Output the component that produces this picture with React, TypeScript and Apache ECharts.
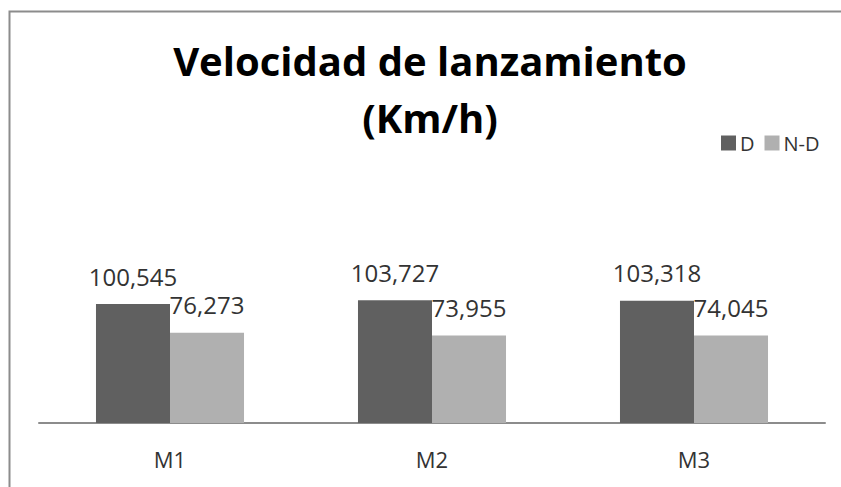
import React, { useEffect, useRef } from "react";
import * as echarts from "echarts";

const categories = ["M1", "M2", "M3"];
const seriesNames = ["D", "N-D"];
const valuesD = [100.545, 103.727, 103.318];
const valuesND = [76.273, 73.955, 74.045];
const colors = ["#606060", "#b0b0b0"];

export default function App() {
  const ref = useRef<HTMLDivElement>(null);
  useEffect(() => {
    document.body.style.margin = "0";
    const chart = echarts.init(ref.current!, null, { renderer: "svg" });
    const fmt = (p: any) => Number(p.value).toFixed(3).replace(".", ",");
    const labelStyle = {
      show: true,
      position: "top" as const,
      distance: 16,
      formatter: fmt,
      fontFamily: "Open Sans",
      fontSize: 24,
      color: "#333333",
    };
    chart.setOption({
      animation: false,
      backgroundColor: "#ffffff",
      title: {
        text: "Velocidad de lanzamiento\n(Km/h)",
        left: 425,
        top: 27,
        textAlign: "center",
        textStyle: {
          fontFamily: "Open Sans",
          fontWeight: "bold",
          fontSize: 40,
          lineHeight: 57,
          color: "#000000",
        },
      },
      legend: {
        left: 716,
        top: 128,
        itemWidth: 15,
        itemHeight: 15,
        itemGap: 10,
        icon: "rect",
        textStyle: { fontFamily: "Open Sans", fontSize: 20, color: "#333333", padding: [0, 0, 0, -1] },
        data: seriesNames,
      },
      grid: { left: 39, right: 16, top: 281, bottom: 64 },
      xAxis: {
        type: "category",
        data: categories,
        axisLine: { lineStyle: { color: "#8c8c8c", width: 2 } },
        axisTick: { show: false },
        axisLabel: { fontFamily: "Open Sans", fontSize: 22, color: "#333333", margin: 25 },
      },
      yAxis: {
        type: "value",
        min: 0,
        max: 120,
        show: false,
        splitLine: { show: false },
      },
      series: [
        {
          name: seriesNames[0],
          type: "bar",
          data: valuesD,
          itemStyle: { color: colors[0] },
          barGap: "0%",
          barCategoryGap: "43.5%",
          label: labelStyle,
        },
        {
          name: seriesNames[1],
          type: "bar",
          data: valuesND,
          itemStyle: { color: colors[1] },
          barGap: "0%",
          barCategoryGap: "43.5%",
          label: labelStyle,
        },
      ],
      graphic: [
        {
          type: "rect",
          left: 7,
          top: 9,
          shape: { width: 900, height: 600 },
          style: { fill: "none", stroke: "#8c8c8c", lineWidth: 2 },
          silent: true,
        },
      ],
    });
    return () => chart.dispose();
  }, []);
  return <div ref={ref} style={{ width: 841, height: 487 }} />;
}
